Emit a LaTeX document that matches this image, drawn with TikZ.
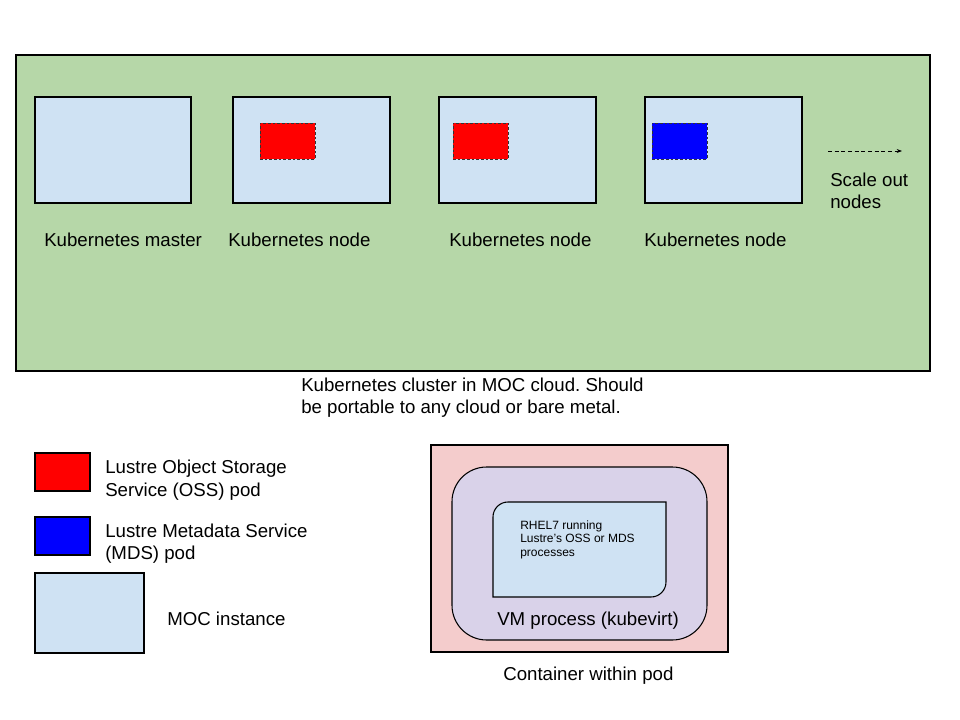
\documentclass[tikz,border=0pt]{standalone}
\usepackage{fontspec}
\setmainfont{Liberation Sans}
\usetikzlibrary{arrows.meta}
\frenchspacing
\definecolor{cgreen}{HTML}{B6D7A8}
\definecolor{cblue}{HTML}{CFE2F3}
\definecolor{cpink}{HTML}{F4CCCC}
\definecolor{clav}{HTML}{D9D2E9}
\definecolor{cred}{HTML}{FF0000}
\definecolor{cdblue}{HTML}{0000FF}
\tikzset{
  box/.style={draw=black, line width=0.8pt, inner sep=0pt, outer sep=0pt},
  podbox/.style={draw=black!80, dashed, dash pattern=on 2pt off 1.5pt, line width=0.6pt, inner sep=0pt, outer sep=0pt, minimum width=41.25pt, minimum height=27pt},
  lbl/.style={anchor=base west, inner sep=0pt, font=\fontsize{14}{17}\selectfont},
  small/.style={anchor=base west, inner sep=0pt, font=\fontsize{9}{10}\selectfont},
}
\begin{document}
\begin{tikzpicture}[x=0.75pt,y=-0.75pt]
\useasboundingbox[fill=white] (0,0) rectangle (960,720);
% cluster
\node[box, fill=cgreen, minimum width=685.5pt, minimum height=237pt] (cluster) at (473,213) {};
\node[box, fill=cblue, minimum width=117pt, minimum height=79.5pt] (master) at (113,150) {};
\node[box, fill=cblue, minimum width=117.75pt, minimum height=79.5pt] (node1) at (311.5,150) {};
\node[box, fill=cblue, minimum width=117.75pt, minimum height=79.5pt] (node2) at (517.5,150) {};
\node[box, fill=cblue, minimum width=117.75pt, minimum height=79.5pt] (node3) at (723.5,150) {};
\node[podbox, fill=cred] (pod1) at (287.5,141) {};
\node[podbox, fill=cred] (pod2) at (480.5,141) {};
\node[podbox, fill=cdblue] (pod3) at (679.5,141) {};
\node[lbl] (tmaster) at (44,247) {Kubernetes master};
\node[lbl] (tnode1) at (228,247) {Kubernetes node};
\node[lbl] (tnode2) at (449,247) {Kubernetes node};
\node[lbl] (tnode3) at (644,247) {Kubernetes node};
\coordinate (arrA) at (828,151);
\coordinate (arrB) at (902,151);
\draw[dashed, dash pattern=on 3pt off 2pt, line width=0.6pt, -{Stealth[length=4pt,width=3pt]}] (arrA) -- (arrB);
\node[lbl] (tscale1) at (830,187) {Scale out};
\node[lbl] (tscale2) at (830,209) {nodes};
\node[lbl] (tcl1) at (301,391) {Kubernetes cluster in MOC cloud. Should};
\node[lbl] (tcl2) at (301,413) {be portable to any cloud or bare metal.};
% legend
\node[box, fill=cred, minimum width=41.25pt, minimum height=28.5pt] (lred) at (62.5,472) {};
\node[box, fill=cdblue, minimum width=41.25pt, minimum height=28.5pt] (lblue) at (62.5,536) {};
\node[box, fill=cblue, minimum width=81.75pt, minimum height=60pt] (lmoc) at (89.5,613) {};
\node[lbl] (tl1a) at (105,473) {Lustre Object Storage};
\node[lbl] (tl1b) at (105,496) {Service (OSS) pod};
\node[lbl] (tl2a) at (105,537) {Lustre Metadata Service};
\node[lbl] (tl2b) at (105,559) {(MDS) pod};
\node[lbl] (tl3) at (167,625) {MOC instance};
% container
\node[box, fill=cpink, minimum width=222.75pt, minimum height=155.25pt] (cont) at (579.5,548.5) {};
\node[box, fill=clav, rounded corners=26pt, minimum width=191.25pt, minimum height=129.75pt] (vm) at (579.5,553.5) {};
\draw[box, fill=cblue] (493,597) -- (493,517) .. controls (493,508.7) and (499.7,502) .. (508,502)
  -- (666,502) -- (666,582) .. controls (666,590.3) and (659.3,597) .. (651,597) -- cycle;
\node[small] (tr1) at (520,529) {RHEL7 running};
\node[small] (tr2) at (520,542.5) {Lustre’s OSS or MDS};
\node[small] (tr3) at (520,556) {processes};
\node[lbl] (tvm) at (497,625) {VM process (kubevirt)};
\node[lbl] (tcont) at (503,680) {Container within pod};
\end{tikzpicture}
\end{document}
